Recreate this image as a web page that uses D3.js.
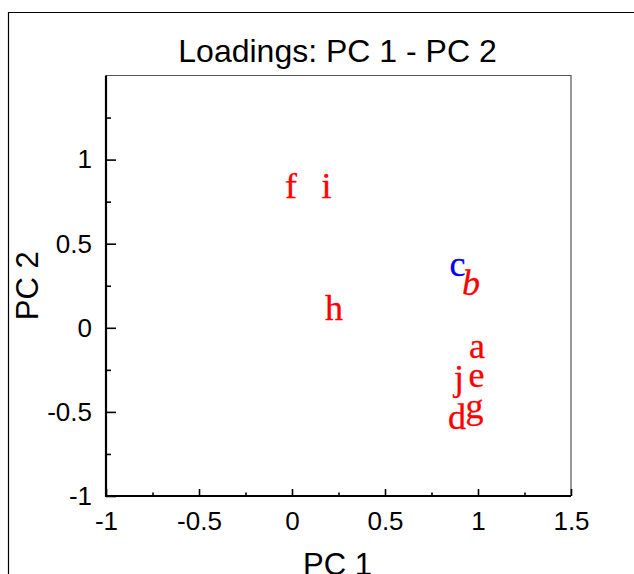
<!DOCTYPE html>
<html>
<head>
<meta charset="utf-8">
<script src="https://cdn.jsdelivr.net/npm/d3@7"></script>
<style>
  body { margin: 0; background: #fff; }
  svg { display: block; }
</style>
</head>
<body>
<div id="chart"></div>
<script>
// loadings (label centre x, text baseline y)
var labels = ["a", "b", "c", "d", "e", "f", "g", "h", "i", "j"];
var pc1 = [0.995, 0.962, 0.890, 0.887, 0.992, -0.005, 0.981, 0.226, 0.185, 0.898];
var pc2 = [-0.178, 0.195, 0.308, -0.600, -0.350, 0.770, -0.536, 0.046, 0.770, -0.370];
var labelColors = ["red", "red", "blue", "red", "red", "red", "red", "red", "red", "red"];
var labelStyles = ["normal", "italic", "normal", "normal", "normal", "normal", "normal", "normal", "normal", "normal"];

var xTicks = [-1, -0.5, 0, 0.5, 1, 1.5];
var yTicks = [-1, -0.5, 0, 0.5, 1];
var xMinor = [-0.75, -0.25, 0.25, 0.75, 1.25];
var yMinor = [-0.75, -0.25, 0.25, 0.75, 1.25];

var W = 634, H = 574;
var margin = {top: 75.5, right: 63, bottom: 78, left: 106};
var width = W - margin.left - margin.right,
    height = H - margin.top - margin.bottom;

var svg = d3.select("#chart").append("svg")
    .attr("width", W)
    .attr("height", H);

// outer frame (only left and top edges are inside the window)
svg.append("path")
    .attr("d", "M8.5," + H + "V12.5H" + W)
    .attr("fill", "none")
    .attr("stroke", "#000")
    .attr("stroke-width", 1.2);

var g = svg.append("g")
    .attr("transform", "translate(" + margin.left + "," + margin.top + ")");

var x = d3.scaleLinear().domain([-1, 1.5]).range([0, width]);
var y = d3.scaleLinear().domain([-1, 1.5]).range([height, 0]);

// box: thin grey top and right
g.append("path")
    .attr("d", "M0,0H" + width + "V" + height)
    .attr("fill", "none")
    .attr("stroke", "#555")
    .attr("stroke-width", 1.2);

var font = "Arial, 'Liberation Sans', sans-serif";

// minor ticks
g.append("g")
    .attr("transform", "translate(0," + height + ")")
    .call(d3.axisBottom(x).tickValues(xMinor).tickSize(-3.5).tickFormat(""))
    .call(function(s) { s.select(".domain").remove(); })
    .selectAll("line").attr("stroke-width", 1.6);

g.append("g")
    .call(d3.axisLeft(y).tickValues(yMinor).tickSize(-5).tickFormat(""))
    .call(function(s) { s.select(".domain").remove(); })
    .selectAll("line").attr("stroke-width", 1.6);

// major ticks + labels
var xAxis = g.append("g")
    .attr("class", "x axis")
    .attr("transform", "translate(0," + height + ")")
    .call(d3.axisBottom(x).tickValues(xTicks).tickSize(-7).tickPadding(16)
        .tickFormat(function(d) { return String(d); }));
xAxis.select(".domain").remove();
xAxis.selectAll("line").attr("stroke-width", 1.6);
xAxis.selectAll("text")
    .attr("font-family", font)
    .attr("font-size", 26)
    .attr("fill", "#000");

var yAxis = g.append("g")
    .attr("class", "y axis")
    .call(d3.axisLeft(y).tickValues(yTicks).tickSize(-10).tickPadding(14)
        .tickFormat(function(d) { return String(d); }));
yAxis.select(".domain").remove();
yAxis.selectAll("line").attr("stroke-width", 1.6);
yAxis.selectAll("text")
    .attr("font-family", font)
    .attr("font-size", 26)
    .attr("fill", "#000");

// thick left and bottom axis lines
g.append("path")
    .attr("d", "M0,0V" + height + "H" + width)
    .attr("fill", "none")
    .attr("stroke", "#000")
    .attr("stroke-width", 2.2);

// loading labels
var data = labels.map(function(l, i) {
    return {label: l, pc1: pc1[i], pc2: pc2[i], color: labelColors[i], style: labelStyles[i]};
});

g.selectAll(".load")
    .data(data)
  .enter().append("text")
    .attr("class", "load")
    .attr("x", function(d) { return x(d.pc1); })
    .attr("y", function(d) { return y(d.pc2); })
    .attr("text-anchor", "middle")
    .attr("font-family", "'Times New Roman', 'Liberation Serif', serif")
    .attr("font-size", 36)
    .attr("font-style", function(d) { return d.style; })
    .attr("fill", function(d) { return d.color; })
    .attr("stroke", function(d) { return d.color; })
    .attr("stroke-width", 0.3)
    .text(function(d) { return d.label; });

// title and axis labels
svg.append("text")
    .attr("x", margin.left + width / 2 - 1)
    .attr("y", 62)
    .attr("text-anchor", "middle")
    .attr("font-family", font)
    .attr("font-size", 32)
    .text("Loadings: PC 1 - PC 2");

svg.append("text")
    .attr("x", margin.left + width / 2 - 1)
    .attr("y", 575)
    .attr("text-anchor", "middle")
    .attr("font-family", font)
    .attr("font-size", 31)
    .text("PC 1");

svg.append("text")
    .attr("transform", "translate(38," + (margin.top + height / 2) + ") rotate(-90)")
    .attr("text-anchor", "middle")
    .attr("font-family", font)
    .attr("font-size", 31)
    .text("PC 2");
</script>
</body>
</html>
